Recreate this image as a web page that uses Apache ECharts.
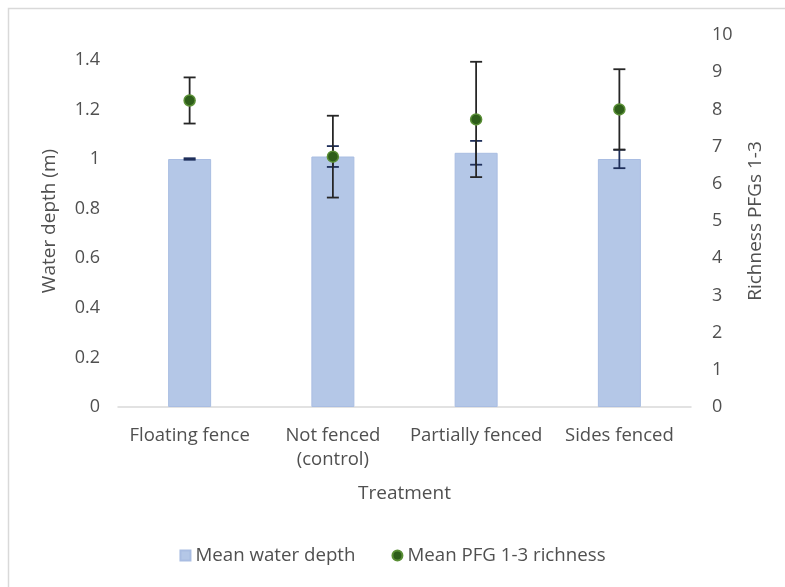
<!DOCTYPE html>
<html>
<head>
<meta charset="utf-8">
<script src="https://cdn.jsdelivr.net/npm/echarts@6/dist/echarts.min.js"></script>
<style>html,body{margin:0;padding:0;background:#fff;}#chart{width:785px;height:587px;}</style>
</head>
<body>
<div id="chart"></div>
<script>
var categories = ['Floating fence', 'Not fenced\n(control)', 'Partially fenced', 'Sides fenced'];
var depth = [1.0, 1.01, 1.025, 1.0];
var depthErr = [0.003, 0.042, 0.048, 0.037];
var richness = [8.24, 6.73, 7.73, 8.0];
var richnessErr = [0.62, 1.1, 1.55, 1.08];
var leftTicks = [0, 0.2, 0.4, 0.6, 0.8, 1, 1.2, 1.4];
var rightTicks = [0, 1, 2, 3, 4, 5, 6, 7, 8, 9, 10];

var FONT = 'Open Sans';
var TXT = '#505050';

function errData(vals, errs) {
  return vals.map(function (v, i) { return [i, v - errs[i], v + errs[i]]; });
}
function errRender(color) {
  return function (params, api) {
    var lo = api.coord([api.value(0), api.value(1)]);
    var hi = api.coord([api.value(0), api.value(2)]);
    var w = 6;
    var st = { stroke: color, lineWidth: 1.8 };
    return { type: 'group', children: [
      { type: 'line', shape: { x1: hi[0], y1: hi[1], x2: lo[0], y2: lo[1] }, style: st },
      { type: 'line', shape: { x1: hi[0] - w, y1: hi[1], x2: hi[0] + w, y2: hi[1] }, style: st },
      { type: 'line', shape: { x1: lo[0] - w, y1: lo[1], x2: lo[0] + w, y2: lo[1] }, style: st }
    ]};
  };
}

var chart = echarts.init(document.getElementById('chart'));
chart.setOption({
  animation: false,
  backgroundColor: '#fff',
  textStyle: { fontFamily: FONT, color: TXT },
  graphic: [{ type: 'rect', left: 6, top: 6, shape: { width: 900, height: 700 },
    style: { fill: 'none', stroke: '#d9d9d9', lineWidth: 1.5 }, silent: true }],
  grid: { left: 118, right: 94, top: 35, bottom: 180 },
  legend: {
    bottom: 17, left: 'center', itemGap: 36, itemWidth: 10, itemHeight: 10,
    textStyle: { fontFamily: FONT, color: TXT, fontSize: 18.7 },
    data: [
      { name: 'Mean water depth', icon: 'rect' },
      { name: 'Mean PFG 1-3 richness', icon: 'circle' }
    ]
  },
  xAxis: {
    type: 'category', data: categories,
    name: 'Treatment', nameLocation: 'middle', nameGap: 77,
    nameTextStyle: { fontFamily: FONT, color: TXT, fontSize: 19 },
    axisLine: { lineStyle: { color: '#d9d9d9', width: 1.5 } },
    axisTick: { show: false },
    axisLabel: { fontFamily: FONT, color: TXT, fontSize: 18.5, lineHeight: 24, margin: 17, interval: 0 }
  },
  yAxis: [{
    type: 'value', min: 0, max: 1.5, interval: 0.2,
    name: 'Water depth (m)', nameLocation: 'middle', nameGap: 59,
    nameTextStyle: { fontFamily: FONT, color: TXT, fontSize: 19 },
    splitLine: { show: false }, axisLine: { show: false }, axisTick: { show: false },
    axisLabel: { fontFamily: FONT, color: TXT, fontSize: 18, margin: 18, showMaxLabel: false,
      formatter: function (v) { return leftTicks.some(function (t) { return Math.abs(t - v) < 1e-6; }) ? String(+v.toFixed(1)) : ''; } }
  }, {
    type: 'value', min: 0, max: 10, interval: 1, position: 'right',
    name: 'Richness PFGs 1-3', nameLocation: 'middle', nameGap: 55,
    nameTextStyle: { fontFamily: FONT, color: TXT, fontSize: 19 },
    splitLine: { show: false }, axisLine: { show: false }, axisTick: { show: false },
    axisLabel: { fontFamily: FONT, color: TXT, fontSize: 18, margin: 21,
      formatter: function (v) { return rightTicks.indexOf(v) >= 0 ? String(v) : ''; } }
  }],
  series: [{
    name: 'Mean water depth', type: 'bar', yAxisIndex: 0, data: depth, barWidth: 43,
    itemStyle: { color: '#b4c7e7', borderColor: '#a9bde2', borderWidth: 1 }
  }, {
    name: 'depthErr', type: 'custom', yAxisIndex: 0, data: errData(depth, depthErr),
    renderItem: errRender('#1f2f5a'), z: 3, silent: true
  }, {
    name: 'richErr', type: 'custom', yAxisIndex: 1, data: errData(richness, richnessErr),
    renderItem: errRender('#262626'), z: 4, silent: true
  }, {
    name: 'Mean PFG 1-3 richness', type: 'scatter', yAxisIndex: 1, data: richness, symbolSize: 11, z: 5,
    itemStyle: { color: '#2e5e1a', borderColor: '#5a8f36', borderWidth: 1.5, opacity: 1 }
  }]
});
</script>
</body>
</html>
